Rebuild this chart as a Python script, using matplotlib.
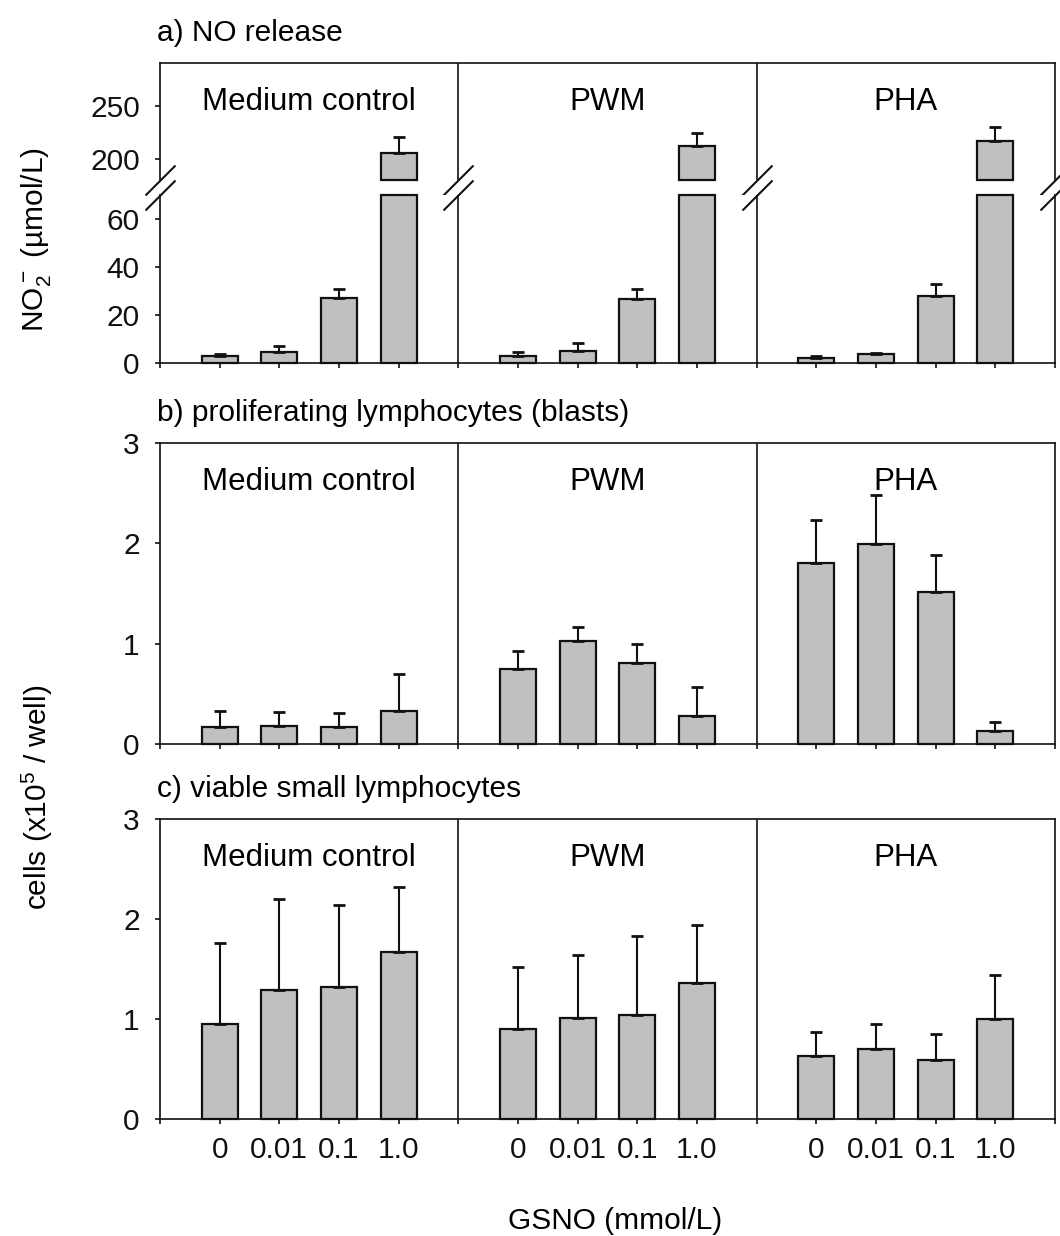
import matplotlib.pyplot as plt
import numpy as np

plt.rcParams['font.family'] = ['Liberation Sans', 'DejaVu Sans']
plt.rcParams['mathtext.default'] = 'regular'
plt.rcParams['font.size'] = 21.5

groups = ['Medium control', 'PWM', 'PHA']
doses = ['0', '0.01', '0.1', '1.0']

# a) NO release, NO2- (umol/L): mean and upper error per group
no_mean = [[3.0, 4.6, 27.0, 205.0],
           [3.0, 5.0, 26.7, 212.0],
           [2.0, 3.7, 28.0, 217.0]]
no_err = [[0.7, 2.4, 4.0, 15.0],
          [1.6, 3.3, 4.1, 12.5],
          [0.9, 0.5, 5.0, 13.0]]

# b) proliferating lymphocytes (blasts), cells x10^5 / well
blast_mean = [[0.17, 0.18, 0.17, 0.33],
              [0.75, 1.03, 0.81, 0.28],
              [1.80, 1.99, 1.51, 0.13]]
blast_err = [[0.16, 0.14, 0.14, 0.37],
             [0.18, 0.14, 0.19, 0.29],
             [0.43, 0.49, 0.37, 0.09]]

# c) viable small lymphocytes, cells x10^5 / well
small_mean = [[0.95, 1.29, 1.32, 1.67],
              [0.90, 1.01, 1.04, 1.36],
              [0.63, 0.70, 0.59, 1.00]]
small_err = [[0.81, 0.91, 0.82, 0.65],
             [0.62, 0.63, 0.79, 0.58],
             [0.24, 0.25, 0.26, 0.44]]

W, H = 1060, 1236
fig = plt.figure(figsize=(W / 100, H / 100), dpi=100)


def px_axes(left, top, right, bottom):
    return fig.add_axes([left / W, 1 - bottom / H, (right - left) / W, (bottom - top) / H])


ax_up = px_axes(160, 63, 1055, 180)
ax_lo = px_axes(160, 195, 1055, 363)
ax_b = px_axes(160, 443, 1055, 744)
ax_c = px_axes(160, 819, 1055, 1119)

pos = np.array([g * 5 + i + 1 for g in range(len(groups)) for i in range(len(doses))])
edges = [0, 5, 10, 15]
dark = '#111111'
bar_kw = dict(width=0.6, color='#c0c0c0', edgecolor=dark, linewidth=1.6, zorder=2, clip_on=False)
err_kw = dict(fmt='none', ecolor=dark, elinewidth=1.5, capsize=4.5, capthick=2, zorder=3)


def style(ax, yticks, ylim):
    ax.set_xlim(0, 15)
    ax.set_ylim(*ylim)
    ax.set_yticks(yticks)
    ax.set_xticks(range(16))
    ax.set_xticklabels([])
    ax.tick_params(direction='out', length=3.5, width=1.2, colors=dark)
    ax.tick_params(axis='y', pad=11)
    ax.tick_params(axis='x', pad=9)
    for sp in ax.spines.values():
        sp.set_linewidth(1.2)
        sp.set_color(dark)
    for xd in edges[1:3]:
        ax.axvline(xd, color=dark, lw=1.2, zorder=1)


def draw(ax, means, errs, bottom=0.0):
    means = np.ravel(means)
    errs = np.ravel(errs)
    ax.bar(pos, means - bottom, bottom=bottom, **bar_kw)
    ax.errorbar(pos, means, yerr=[np.zeros_like(errs), errs], **err_kw)


def group_labels(ax):
    for g, name in enumerate(groups):
        ax.annotate(name, xy=(g * 5 + 2.5, 1), xycoords=ax.get_xaxis_transform(),
                    xytext=(0, -34), textcoords='offset points', ha='center',
                    va='baseline', fontsize=22.5)


# panel a, broken axis
lo_top, up_bot = 70, 180
style(ax_lo, [0, 20, 40, 60], (0, lo_top))
style(ax_up, [200, 250], (up_bot, 290))
ax_up.spines['bottom'].set_visible(False)
ax_up.tick_params(axis='x', bottom=False)
ax_lo.spines['top'].set_visible(False)

m = np.ravel(no_mean)
e = np.ravel(no_err)
ax_lo.bar(pos, np.minimum(m, lo_top), **bar_kw)
low = m < lo_top
ax_lo.errorbar(pos[low], m[low], yerr=[np.zeros(low.sum()), e[low]], **err_kw)
high = m > up_bot
ax_up.bar(pos[high], m[high] - up_bot, bottom=up_bot, **bar_kw)
ax_up.errorbar(pos[high], m[high], yerr=[np.zeros(high.sum()), e[high]], **err_kw)

brk = dict(marker=[(-1, -1), (1, 1)], markersize=21.6, linestyle='none',
           color=dark, mec=dark, mew=1.5, clip_on=False, zorder=5)
ax_up.plot(edges, [0] * len(edges), transform=ax_up.get_xaxis_transform(), **brk)
ax_lo.plot(edges, [1] * len(edges), transform=ax_lo.get_xaxis_transform(), **brk)
group_labels(ax_up)

# panels b and c
for ax, mm, ee in [(ax_b, blast_mean, blast_err), (ax_c, small_mean, small_err)]:
    style(ax, [0, 1, 2, 3], (0, 3))
    draw(ax, mm, ee)
    group_labels(ax)

ax_c.set_xticklabels(['' if k % 5 == 0 else doses[k % 5 - 1] for k in range(16)])

fig.text(157 / W, 1 - 41 / H, 'a) NO release', va='baseline', ha='left')
fig.text(157 / W, 1 - 421 / H, 'b) proliferating lymphocytes (blasts)', va='baseline', ha='left')
fig.text(157 / W, 1 - 797 / H, 'c) viable small lymphocytes', va='baseline', ha='left')

fig.text(36 / W, 1 - 240 / H, r'NO$_2^-$ (µmol/L)', rotation=90, va='center', ha='center')
fig.text(37 / W, 1 - 797 / H, r'cells (x10$^5$ / well)', rotation=90, va='center', ha='center')
fig.text(615 / W, 1 - 1229 / H, 'GSNO (mmol/L)', va='baseline', ha='center')

fig.savefig('out.png', dpi=100)
